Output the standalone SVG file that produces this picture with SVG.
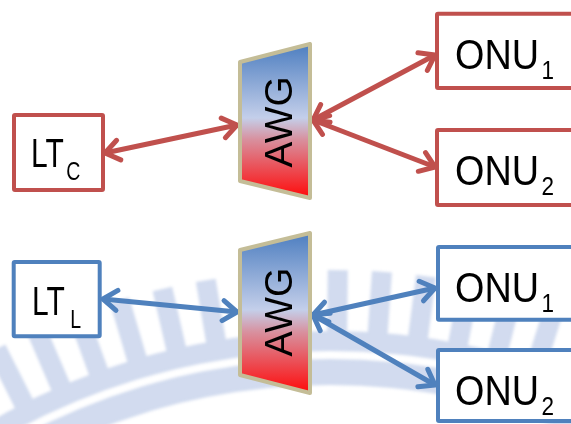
<svg xmlns="http://www.w3.org/2000/svg" width="571" height="424" viewBox="0 0 571 424">
  <style>
    .box { fill: #FFFFFF; stroke-width: 4; }
    .red { stroke: #C0504D; }
    .blue { stroke: #4F81BD; }
    .awg { fill: url(#awgFill); stroke: #C4BD97; stroke-width: 4; stroke-linejoin: round; }
    .lbl { font-family: "Liberation Sans", Arial, sans-serif; fill: #000000; }
    .onu { font-size: 42px; }
    .lt { font-size: 40px; }
    .sub { font-size: 25px; }
    .subLt { font-size: 26px; }
    .awgText { font-family: "Liberation Sans", Arial, sans-serif; font-size: 38px; fill: #000000; text-anchor: middle; }
    .link { fill: none; stroke-width: 5; }
    .linkRed { stroke: #C0504D; marker-start: url(#headRed); marker-end: url(#headRed); }
    .linkBlue { stroke: #4F81BD; marker-start: url(#headBlue); marker-end: url(#headBlue); }
    .wm { fill: #9AAFDB; }
  </style>
  <defs>
    <linearGradient id="awgFill" x1="0" y1="0" x2="0" y2="1">
      <stop offset="0" stop-color="#4D7EC0"/>
      <stop offset="0.48" stop-color="#C4CFEA"/>
      <stop offset="0.62" stop-color="#D8909E"/>
      <stop offset="1" stop-color="#FF0A0A"/>
    </linearGradient>
    <marker id="headRed" viewBox="-20 -14 24 28" refX="0" refY="0" markerWidth="24" markerHeight="28" markerUnits="userSpaceOnUse" orient="auto-start-reverse">
      <path d="M-14,-10 L0,0 L-14,10" fill="none" stroke="#C0504D" stroke-width="5" stroke-linecap="round" stroke-linejoin="round"/>
    </marker>
    <marker id="headBlue" viewBox="-20 -14 24 28" refX="0" refY="0" markerWidth="24" markerHeight="28" markerUnits="userSpaceOnUse" orient="auto-start-reverse">
      <path d="M-14,-10 L0,0 L-14,10" fill="none" stroke="#4F81BD" stroke-width="5" stroke-linecap="round" stroke-linejoin="round"/>
    </marker>
    <filter id="soft" x="-5%" y="-5%" width="110%" height="110%">
      <feGaussianBlur stdDeviation="1.5"/>
    </filter>
    <rect id="tooth" x="320" y="270" width="20" height="62"/>
  </defs>

  <!-- faint background emblem: two arc bands with radial teeth -->
  <g id="watermark" opacity="0.45" filter="url(#soft)">
    <path class="wm" d="M-354,1015 A684,684 0 0 1 1014,1015 L994,1015 A664,664 0 0 0 -334,1015 Z"/>
    <path class="wm" d="M-326,1015 A656,656 0 0 1 986,1015 L960,1015 A630,630 0 0 0 -300,1015 Z"/>
    <g class="wm">
      <use href="#tooth" transform="rotate(-30 330 1015)"/>
      <use href="#tooth" transform="rotate(-26.6 330 1015)"/>
      <use href="#tooth" transform="rotate(-23.2 330 1015)"/>
      <use href="#tooth" transform="rotate(-19.8 330 1015)"/>
      <use href="#tooth" transform="rotate(-16.4 330 1015)"/>
      <use href="#tooth" transform="rotate(-13 330 1015)"/>
      <use href="#tooth" transform="rotate(-9.6 330 1015)"/>
      <use href="#tooth" transform="rotate(-6.2 330 1015)"/>
      <use href="#tooth" transform="rotate(-2.8 330 1015)"/>
      <use href="#tooth" transform="rotate(0.6 330 1015)"/>
      <use href="#tooth" transform="rotate(4 330 1015)"/>
      <use href="#tooth" transform="rotate(7.4 330 1015)"/>
      <use href="#tooth" transform="rotate(10.8 330 1015)"/>
      <use href="#tooth" transform="rotate(14.2 330 1015)"/>
      <use href="#tooth" transform="rotate(17.6 330 1015)"/>
    </g>
  </g>

  <!-- connectors -->
  <g id="connectors">
    <line class="link linkRed" x1="105" y1="153" x2="237" y2="125"/>
    <line class="link linkRed" x1="313" y1="120" x2="435" y2="55"/>
    <line class="link linkRed" x1="313" y1="120" x2="435" y2="167"/>
    <line class="link linkBlue" x1="103" y1="299" x2="237" y2="312"/>
    <line class="link linkBlue" x1="313" y1="315" x2="435" y2="288"/>
    <line class="link linkBlue" x1="313" y1="315" x2="435" y2="385"/>
  </g>

  <!-- upper network -->
  <g id="ltc">
    <rect class="box red" x="14" y="115" width="89" height="75" rx="1"/>
    <g transform="translate(31 167) scale(0.75 1)">
      <text class="lbl lt" x="0" y="0">LT</text>
      <text class="lbl subLt" x="47" y="13">C</text>
    </g>
  </g>
  <g id="awg-upper">
    <polygon class="awg" points="240,62 310,44 310,198 240,181"/>
    <text class="awgText" transform="translate(291.5 122) rotate(-90)" textLength="91" lengthAdjust="spacingAndGlyphs">AWG</text>
  </g>
  <g id="onu1-upper">
    <rect class="box red" x="437" y="13.7" width="160" height="74.3" rx="1"/>
    <g transform="translate(455 69) scale(0.9 1)">
      <text class="lbl onu" x="0" y="0">ONU</text>
      <text class="lbl sub" x="96" y="10">1</text>
    </g>
  </g>
  <g id="onu2-upper">
    <rect class="box red" x="437" y="130" width="160" height="75" rx="1"/>
    <g transform="translate(455 185) scale(0.9 1)">
      <text class="lbl onu" x="0" y="0">ONU</text>
      <text class="lbl sub" x="96" y="10">2</text>
    </g>
  </g>

  <!-- lower network -->
  <g id="ltl">
    <rect class="box blue" x="13.7" y="262" width="86" height="74.3" rx="1"/>
    <g transform="translate(32 315) scale(0.75 1)">
      <text class="lbl lt" x="0" y="0">LT</text>
      <text class="lbl subLt" x="51" y="13">L</text>
    </g>
  </g>
  <g id="awg-lower">
    <polygon class="awg" points="240,250 310,233 310,393 240,375"/>
    <text class="awgText" transform="translate(291.5 312) rotate(-90)" textLength="89" lengthAdjust="spacingAndGlyphs">AWG</text>
  </g>
  <g id="onu1-lower">
    <rect class="box blue" x="438" y="247" width="160" height="72.7" rx="1"/>
    <g transform="translate(455 302) scale(0.9 1)">
      <text class="lbl onu" x="0" y="0">ONU</text>
      <text class="lbl sub" x="96" y="10">1</text>
    </g>
  </g>
  <g id="onu2-lower">
    <rect class="box blue" x="438" y="350" width="160" height="71" rx="1"/>
    <g transform="translate(455 405) scale(0.9 1)">
      <text class="lbl onu" x="0" y="0">ONU</text>
      <text class="lbl sub" x="96" y="10">2</text>
    </g>
  </g>
</svg>
